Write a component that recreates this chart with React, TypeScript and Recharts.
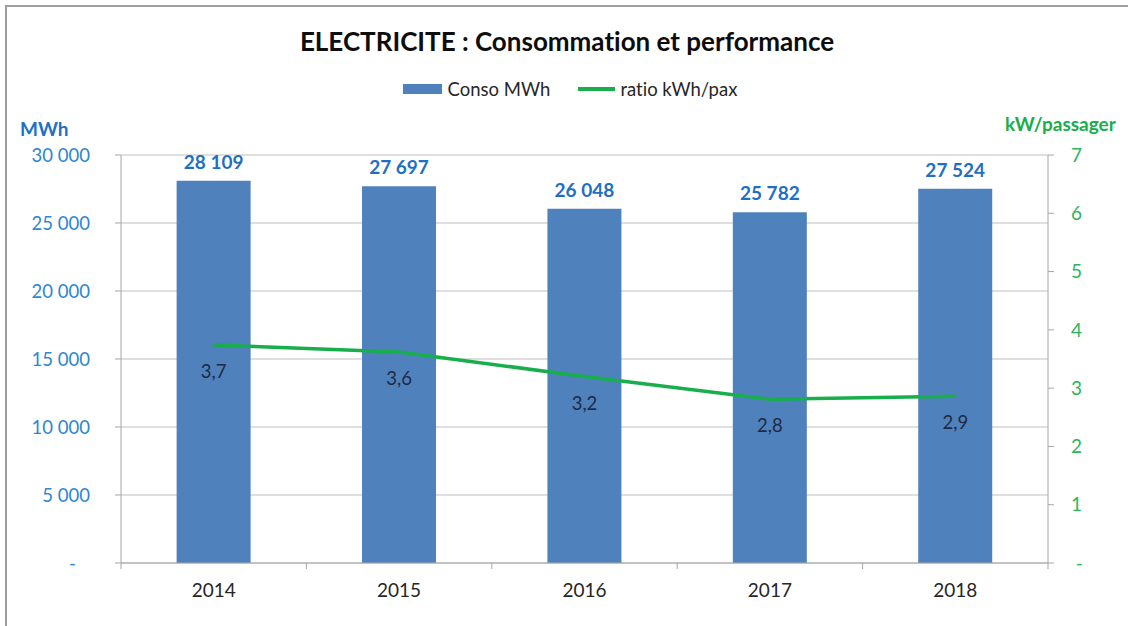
import React from 'react';
import {
  ComposedChart,
  Bar,
  Line,
  XAxis,
  YAxis,
  CartesianGrid,
  LabelList,
  Label
} from 'recharts';

const years = ['2014', '2015', '2016', '2017', '2018'];
const consoMWh = [28109, 27697, 26048, 25782, 27524];
const ratioKwhPax = [3.74, 3.62, 3.2, 2.81, 2.86];
const mwhTicks = [0, 5000, 10000, 15000, 20000, 25000, 30000];
const paxTicks = [0, 1, 2, 3, 4, 5, 6, 7];

const data = years.map((year, i) => ({
  year,
  conso: consoMWh[i],
  ratio: ratioKwhPax[i]
}));

const FONT = 'Lato, "Open Sans", sans-serif';
const BAR_BLUE = '#4F81BD';
const LABEL_BLUE = '#1F6FC5';
const GREEN = '#17AE4B';
const AXIS_GREY = '#A6A6A6';

const W = 1128;
const H = 626;
const PLOT_LEFT = 121;
const PLOT_RIGHT = 1048;

// thousands with a plain space, french style
const fmtThousands = (v: number) =>
  v === 0 ? '-\u00a0\u00a0\u00a0' : String(v).replace(/\B(?=(\d{3})+(?!\d))/g, ' ');

const fmtRatio = (v: number) => v.toFixed(1).replace('.', ',');

// category ticks: Excel puts the tick marks between categories
const YearTick = ({ x, y, payload, index }: any) => {
  const band = (PLOT_RIGHT - PLOT_LEFT) / years.length;
  return (
    <g>
      <line x1={x - band / 2} x2={x - band / 2} y1={y} y2={y + 6} stroke={AXIS_GREY} />
      {index === years.length - 1 && (
        <line x1={x + band / 2} x2={x + band / 2} y1={y} y2={y + 6} stroke={AXIS_GREY} />
      )}
      <text x={x} y={y + 34} textAnchor="middle" fill="#262626" fontSize={19} fontFamily={FONT}>
        {payload.value}
      </text>
    </g>
  );
};

export default function App() {
  return (
    <div
      style={{
        position: 'relative',
        width: W,
        height: H,
        overflow: 'hidden',
        background: '#fff',
        fontVariantLigatures: 'none'
      }}
    >
      <style>{`body{margin:0} svg text{font-variant-ligatures:none}`}</style>
      {/* chart frame, only top and left edges are visible */}
      <div
        style={{
          position: 'absolute',
          left: 5,
          top: 5,
          width: W + 50,
          height: H + 50,
          borderTop: '2px solid #9E9E9E',
          borderLeft: '2px solid #9E9E9E'
        }}
      />
      <div
        style={{
          position: 'absolute',
          top: 25,
          left: 3,
          width: W,
          textAlign: 'center',
          fontFamily: FONT,
          fontWeight: 700,
          fontSize: 26,
          color: '#0D0D0D'
        }}
      >
        ELECTRICITE : Consommation et performance
      </div>
      <div
        style={{
          position: 'absolute',
          top: 78,
          left: 6,
          width: W,
          display: 'flex',
          justifyContent: 'center',
          alignItems: 'center',
          fontFamily: FONT,
          fontSize: 18.5,
          color: '#262626'
        }}
      >
        <span style={{ display: 'inline-block', width: 39, height: 10, background: BAR_BLUE, marginRight: 6 }} />
        <span>Conso MWh</span>
        <span style={{ display: 'inline-block', width: 37, height: 4, background: GREEN, marginLeft: 28, marginRight: 5 }} />
        <span>ratio kWh/pax</span>
      </div>
      <div style={{ position: 'absolute', left: 0, top: 0 }}>
        <ComposedChart
          width={W}
          height={H}
          data={data}
          margin={{ top: 155, right: 0, left: 61, bottom: 23 }}
          barCategoryGap="30%"
        >
          <CartesianGrid yAxisId="mwh" vertical={false} stroke="#BFBFBF" />
          <XAxis
            dataKey="year"
            height={40}
            tickLine={false}
            tickSize={0}
            tickMargin={0}
            axisLine={{ stroke: AXIS_GREY }}
            tick={<YearTick />}
            interval={0}
          />
          <YAxis
            yAxisId="mwh"
            orientation="left"
            width={60}
            domain={[0, 30000]}
            ticks={mwhTicks}
            tickFormatter={fmtThousands}
            tickSize={6}
            tickMargin={25}
            tickLine={{ stroke: AXIS_GREY }}
            axisLine={{ stroke: AXIS_GREY }}
            tick={{ fill: '#2E86D1', fontSize: 18.5, fontFamily: FONT }}
            interval={0}
          >
            <Label
              content={() => (
                <text x={20} y={136} fill={LABEL_BLUE} fontSize={19} fontWeight={700} fontFamily={FONT}>
                  MWh
                </text>
              )}
            />
          </YAxis>
          <YAxis
            yAxisId="pax"
            orientation="right"
            width={80}
            domain={[0, 7]}
            ticks={paxTicks}
            tickFormatter={(v: number) => (v === 0 ? '\u00a0-' : String(v))}
            tickSize={6}
            tickMargin={17}
            tickLine={{ stroke: AXIS_GREY }}
            axisLine={{ stroke: AXIS_GREY }}
            tick={{ fill: '#2DB45C', fontSize: 19, fontFamily: FONT, textAnchor: 'start' }}
            interval={0}
          >
            <Label
              content={() => (
                <text x={1005} y={131} fill={GREEN} fontSize={19} fontWeight={700} fontFamily={FONT}>
                  kW/passager
                </text>
              )}
            />
          </YAxis>
          <Bar yAxisId="mwh" dataKey="conso" fill={BAR_BLUE} isAnimationActive={false}>
            <LabelList
              dataKey="conso"
              position="top"
              offset={12}
              formatter={(v: any) => fmtThousands(Number(v))}
              fill={LABEL_BLUE}
              fontSize={19}
              fontWeight={700}
              fontFamily={FONT}
            />
          </Bar>
          <Line
            yAxisId="pax"
            dataKey="ratio"
            type="linear"
            stroke={GREEN}
            strokeWidth={3.5}
            dot={false}
            activeDot={false}
            isAnimationActive={false}
          >
            <LabelList
              dataKey="ratio"
              position="bottom"
              offset={20}
              formatter={(v: any) => fmtRatio(Number(v))}
              fill="#1F2A44"
              fontSize={18.5}
              fontFamily={FONT}
            />
          </Line>
        </ComposedChart>
      </div>
    </div>
  );
}
